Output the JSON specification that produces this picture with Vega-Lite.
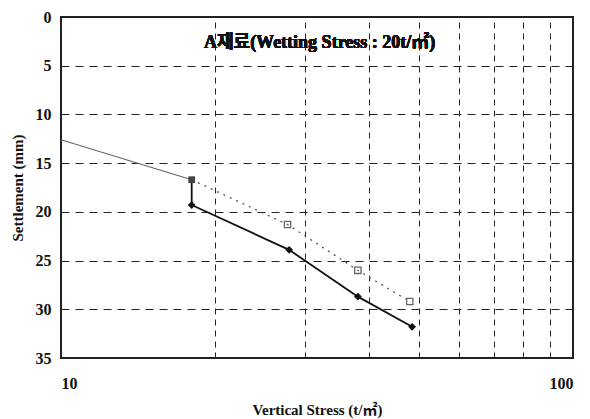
{
  "$schema": "https://vega.github.io/schema/vega-lite/v6.json",
  "width": 512,
  "height": 341,
  "autosize": {"type": "none"},
  "padding": {"left": 61, "top": 17, "right": 17, "bottom": 61},
  "background": "white",
  "config": {
    "view": {"stroke": "#222", "strokeWidth": 2},
    "font": "Liberation Serif"
  },
  "data": {
    "values": [
      {"stress": 10, "settlement": 12.6, "series": "loading", "order": 0},
      {"stress": 18, "settlement": 16.7, "series": "loading", "order": 1},
      {"stress": 18, "settlement": 16.7, "series": "wetting", "order": 0},
      {"stress": 18, "settlement": 19.3, "series": "wetting", "order": 1},
      {"stress": 27.9, "settlement": 23.9, "series": "wetting", "order": 2},
      {"stress": 38, "settlement": 28.7, "series": "wetting", "order": 3},
      {"stress": 48.5, "settlement": 31.8, "series": "wetting", "order": 4},
      {"stress": 18, "settlement": 16.7, "series": "dry", "order": 0},
      {"stress": 27.7, "settlement": 21.3, "series": "dry", "order": 1},
      {"stress": 38, "settlement": 26.0, "series": "dry", "order": 2},
      {"stress": 48, "settlement": 29.2, "series": "dry", "order": 3}
    ]
  },
  "encoding": {
    "x": {
      "field": "stress", "type": "quantitative",
      "scale": {"type": "log", "domain": [10, 100], "nice": false},
      "axis": {
        "title": "Vertical Stress (t/㎡)",
        "values": [10, 20, 30, 40, 50, 60, 70, 80, 90, 100],
        "labelExpr": "datum.value == 10 || datum.value == 100 ? datum.value : ''",
        "labelFont": "Liberation Serif", "labelFontWeight": "bold", "labelFontSize": 16, "labelColor": "#111",
        "labelPadding": 17,
        "titleFont": "Liberation Serif, Noto Sans CJK KR", "titleFontWeight": "bold", "titleFontSize": 15, "titleColor": "#111",
        "titlePadding": 11,
        "ticks": false, "domain": false,
        "grid": true, "gridColor": "#222", "gridDash": [6, 5], "gridWidth": 1, "gridOpacity": 1
      }
    },
    "y": {
      "field": "settlement", "type": "quantitative",
      "scale": {"domain": [0, 35], "reverse": true, "nice": false},
      "axis": {
        "title": "Settlement (mm)",
        "values": [0, 5, 10, 15, 20, 25, 30, 35],
        "labelFont": "Liberation Serif", "labelFontWeight": "bold", "labelFontSize": 16, "labelColor": "#111",
        "labelPadding": 10,
        "titleFont": "Liberation Serif", "titleFontWeight": "bold", "titleFontSize": 15, "titleColor": "#111",
        "titlePadding": 10,
        "ticks": false, "domain": false,
        "grid": true, "gridColor": "#222", "gridDash": [8, 6], "gridWidth": 1, "gridOpacity": 1
      }
    },
    "order": {"field": "order", "type": "quantitative"}
  },
  "layer": [
    {
      "transform": [{"filter": "datum.series == 'loading'"}],
      "mark": {"type": "line", "color": "#666", "strokeWidth": 1.2}
    },
    {
      "transform": [{"filter": "datum.series == 'dry'"}],
      "mark": {"type": "line", "color": "#555", "strokeWidth": 1.3, "strokeDash": [2, 5]}
    },
    {
      "transform": [{"filter": "datum.series == 'wetting'"}],
      "mark": {"type": "line", "color": "#111", "strokeWidth": 1.8}
    },
    {
      "transform": [{"filter": "datum.series == 'wetting' && datum.order > 0"}],
      "mark": {"type": "point", "shape": "diamond", "filled": true, "color": "#111", "size": 60, "opacity": 1}
    },
    {
      "transform": [{"filter": "datum.series == 'dry' && datum.order > 0"}],
      "mark": {"type": "point", "shape": "square", "filled": false, "color": "#666", "strokeWidth": 1.3, "size": 40, "opacity": 1}
    },
    {
      "transform": [{"filter": "datum.series == 'dry' && datum.order == 0"}],
      "mark": {"type": "point", "shape": "square", "filled": true, "color": "#444", "size": 45, "opacity": 1}
    },
    {
      "mark": {"type": "text", "font": "Liberation Serif, Noto Sans CJK KR", "fontWeight": "bold", "fontSize": 18, "color": "#111", "align": "center", "baseline": "middle"},
      "encoding": {
        "x": {"datum": 32},
        "y": {"datum": 2.7},
        "text": {"value": "A재료(Wetting Stress : 20t/㎡)"},
        "order": null
      }
    }
  ]
}
